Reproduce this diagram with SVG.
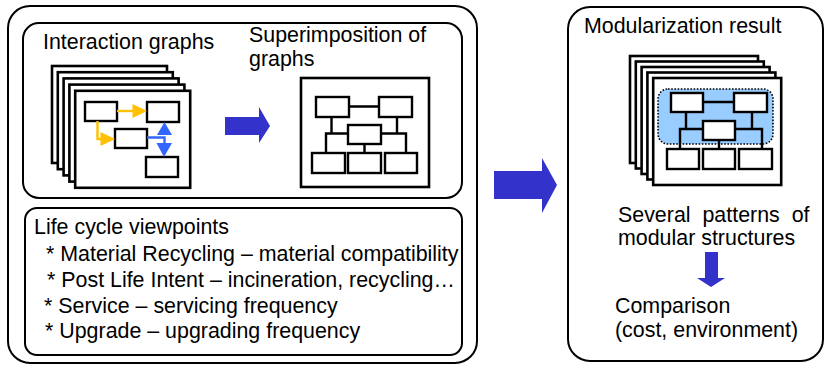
<svg xmlns="http://www.w3.org/2000/svg" width="826" height="367" viewBox="0 0 826 367">
<style>
.box{fill:#fff;stroke:#000;stroke-width:2}
.sheet{fill:#fff;stroke:#000;stroke-width:2.6}
.nd{fill:#fff;stroke:#000;stroke-width:2.4}
.ln{fill:none;stroke:#000;stroke-width:2.4}
.t{font-family:"Liberation Sans",Arial,sans-serif;font-size:21.4px;fill:#000}
.big{fill:#3333CC}
.yl{fill:none;stroke:#FFC000;stroke-width:2.4}
.yh{fill:#FFC000}
.bl{fill:none;stroke:#3366FF;stroke-width:2.4}
.bh{fill:#3366FF}
</style>
<rect width="826" height="367" fill="#fff"/>

<g id="left-panel">
<rect class="box" x="8" y="6" width="469" height="357" rx="22"/>
</g>

<g id="graphs-panel">
<rect class="box" x="23" y="23" width="439" height="175" rx="16"/>
<text class="t" x="43" y="49">Interaction graphs</text>
<text class="t" x="249" y="42">Superimposition of</text>
<text class="t" x="249" y="66">graphs</text>
</g>

<g id="interaction-graphs">
<rect class="sheet" x="52" y="66" width="115" height="97"/>
<rect class="sheet" x="57.8" y="72.2" width="115" height="97"/>
<rect class="sheet" x="63.6" y="78.4" width="115" height="97"/>
<rect class="sheet" x="69.4" y="84.6" width="115" height="97"/>
<rect class="sheet" x="75.2" y="90.8" width="115" height="97"/>
<rect class="nd" x="85" y="102" width="32" height="19"/>
<rect class="nd" x="147" y="102" width="32" height="20"/>
<rect class="nd" x="115" y="129" width="32" height="19"/>
<rect class="nd" x="146" y="157" width="32" height="20"/>
<path class="yl" d="M117 111H134"/>
<polygon class="yh" points="132.5,104 147,111 132.5,118"/>
<path class="yl" d="M97.5 121V139H103"/>
<polygon class="yh" points="100.5,132 115,139 100.5,146"/>
<path class="bl" d="M147 137.5H164.5V144"/>
<polygon class="bh" points="164.5,122 172,135 157,135"/>
<polygon class="bh" points="156.5,143 172,143 164,157"/>
</g>

<g id="superimposition">
<rect class="sheet" x="301" y="78" width="128" height="109"/>
<path class="ln" d="M349 106.5H379M331.5 117V133.5M397 117V133.5M326 153V133.5H348M381 133.5H406V153M364.5 144V153"/>
<rect class="nd" x="316" y="97" width="33" height="20"/>
<rect class="nd" x="379" y="97" width="33" height="20"/>
<rect class="nd" x="348" y="125" width="33" height="19"/>
<rect class="nd" x="312" y="153" width="33" height="20"/>
<rect class="nd" x="348" y="153" width="33" height="20"/>
<rect class="nd" x="385" y="153" width="32" height="20"/>
</g>

<g id="life-cycle">
<rect class="box" x="25" y="208" width="437" height="147" rx="12"/>
<text class="t" x="34" y="234">Life cycle viewpoints</text>
<text class="t" x="46" y="261">* Material Recycling – material compatibility</text>
<text class="t" x="47" y="287">* Post Life Intent – incineration, recycling…</text>
<text class="t" x="44" y="313">* Service – servicing frequency</text>
<text class="t" x="45" y="338">* Upgrade – upgrading frequency</text>
</g>

<g id="result-panel">
<rect class="box" x="568" y="7" width="255" height="354" rx="22"/>
<text class="t" x="584" y="33">Modularization result</text>
<text class="t" x="618" y="222" word-spacing="6">Several patterns of</text>
<text class="t" x="618" y="245">modular structures</text>
<text class="t" x="615" y="313">Comparison</text>
<text class="t" x="615" y="337">(cost, environment)</text>
</g>

<g id="modular-structures">
<rect class="sheet" x="630" y="56" width="128" height="107"/>
<rect class="sheet" x="635.8" y="61.5" width="128" height="107"/>
<rect class="sheet" x="641.6" y="67" width="128" height="107"/>
<rect class="sheet" x="647.4" y="72.5" width="128" height="107"/>
<rect class="sheet" x="653.2" y="78" width="128" height="107"/>
<rect x="658" y="89" width="115" height="55" rx="10" fill="#99CCFF" stroke="#000" stroke-width="1.6" stroke-dasharray="1.6 1.6"/>
<path class="ln" d="M703 102H734M686 112V129M752 112V129M680 149V129H703M735 129H762V149M719 140V149"/>
<rect class="nd" x="671" y="93" width="32" height="19"/>
<rect class="nd" x="734" y="93" width="33" height="19"/>
<rect class="nd" x="703" y="121" width="32" height="19"/>
<rect class="nd" x="667" y="149" width="32" height="20"/>
<rect class="nd" x="703" y="149" width="32" height="20"/>
<rect class="nd" x="739" y="149" width="33" height="20"/>
</g>

<g id="connectors">
<polygon class="big" points="225,117 259,117 259,107 270,126 259,143 259,135 225,135"/>
<polygon class="big" points="494,171 542,171 542,158 557,185 542,213 542,199 494,199"/>
<polygon class="big" points="705,252 718,252 718,278 725,278 711,287 697,278 705,278"/>
</g>
</svg>
